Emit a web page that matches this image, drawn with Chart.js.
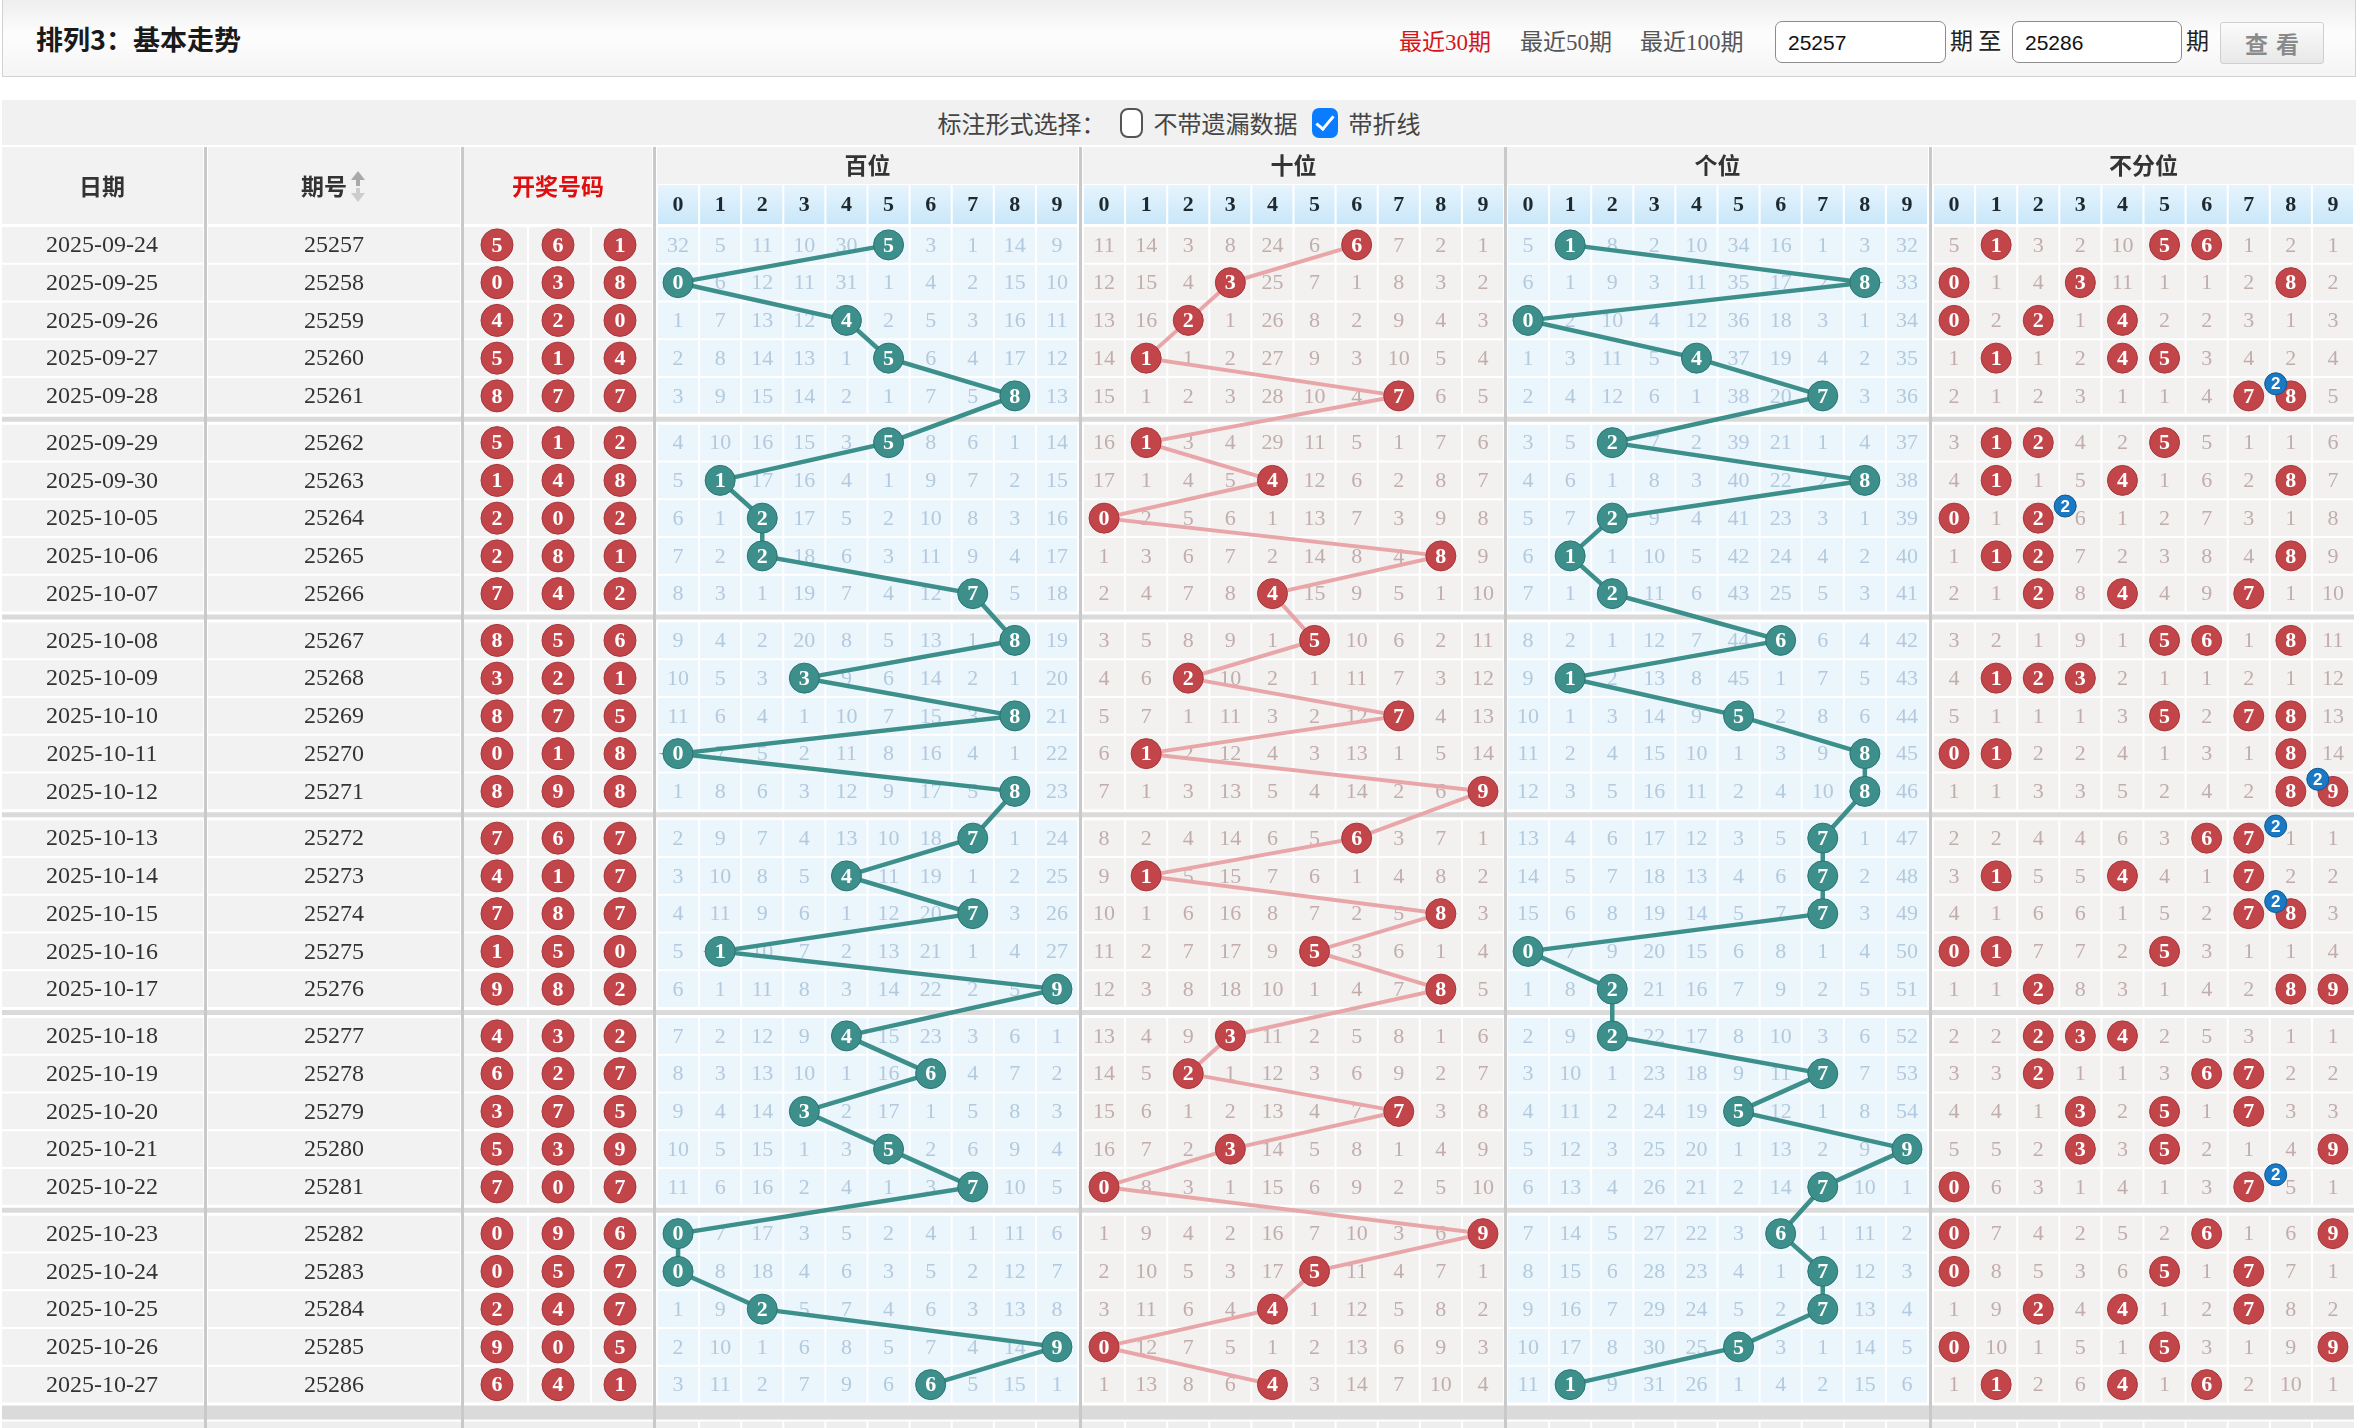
<!DOCTYPE html>
<html lang="zh-CN">
<head>
<meta charset="utf-8">
<title>排列3：基本走势</title>
<script src="https://cdn.jsdelivr.net/npm/chart.js@4.4.1/dist/chart.umd.min.js"></script>
<style>
  body { margin: 0; width: 2360px; height: 1428px; overflow: hidden; background: #fff; position: relative;
         font-family: "Liberation Serif", "Noto Sans CJK SC", serif; color: #333; }
  .bar { position: absolute; left: 2px; top: 0; width: 2352px; height: 76px; border: 1px solid #d2d2d2; border-top: 0;
         background: linear-gradient(#eeeeee, #fdfdfd 45%, #f5f5f5); }
  .title { position: absolute; left: 33px; top: 19px; font: bold 27px "Noto Sans CJK SC", sans-serif; color: #1a1a1a; }
  .lnk { position: absolute; top: 23px; font-size: 23px; color: #555; }
  .lnk.on { color: #d2161b; }
  .inp { position: absolute; top: 21px; height: 42px; box-sizing: border-box; border: 1px solid #8c8c8c; border-radius: 7px;
         background: #fff; font: 21px "Liberation Sans", Arial, sans-serif; color: #111; padding: 9px 0 0 12px; }
  .txt { position: absolute; top: 22px; font: 23px "Noto Sans CJK SC", sans-serif; color: #222; }
  .btn { position: absolute; left: 2217px; top: 22px; width: 104px; height: 42px; box-sizing: border-box;
         border: 1px solid #cfcfcf; border-radius: 3px; background: linear-gradient(#fbfbfb, #e8e8e8);
         font: bold 23px "Noto Sans CJK SC", sans-serif; color: #8a8a8a; text-align: center; line-height: 40px; letter-spacing: 8px; text-indent: 8px; }
  .sel { position: absolute; left: 2px; top: 100px; width: 2354px; height: 45px; background: #f1f1f1;
         display: flex; align-items: center; justify-content: center; font: 24px "Noto Sans CJK SC", sans-serif; color: #444; }
  .sel input { appearance: none; -webkit-appearance: none; margin: 0 11px 0 14px; box-sizing: border-box; }
  .sel .off { width: 23px; height: 30px; border: 2px solid #555; border-radius: 8px; background: #fff; }
  .sel .on { width: 26px; height: 30px; border-radius: 7px; background: #0a7cff; position: relative; }
  .sel .on::after { content: ""; position: absolute; left: 8px; top: 4px; width: 7px; height: 15px;
         border: solid #fff; border-width: 0 3px 3px 0; transform: rotate(40deg); }
  canvas { position: absolute; left: 0; top: 146px; }
</style>
</head>
<body>
<div class="bar">
  <div class="title">排列3：基本走势</div>
  <span class="lnk on" style="left:1396px">最近30期</span>
  <span class="lnk" style="left:1517px">最近50期</span>
  <span class="lnk" style="left:1637px">最近100期</span>
  <div class="inp" style="left:1772px;width:171px">25257</div>
  <span class="txt" style="left:1947px">期 至</span>
  <div class="inp" style="left:2009px;width:170px">25286</div>
  <span class="txt" style="left:2183px">期</span>
  <div class="btn">查看</div>
</div>
<div class="sel">
  <span>标注形式选择：</span>
  <input type="checkbox" class="off"><span>不带遗漏数据</span>
  <input type="checkbox" class="on" checked><span>带折线</span>
</div>
<canvas id="trend" width="2360" height="1282"></canvas>
<script>
const dates = ['2025-09-24', '2025-09-25', '2025-09-26', '2025-09-27', '2025-09-28',
               '2025-09-29', '2025-09-30', '2025-10-05', '2025-10-06', '2025-10-07',
               '2025-10-08', '2025-10-09', '2025-10-10', '2025-10-11', '2025-10-12',
               '2025-10-13', '2025-10-14', '2025-10-15', '2025-10-16', '2025-10-17',
               '2025-10-18', '2025-10-19', '2025-10-20', '2025-10-21', '2025-10-22',
               '2025-10-23', '2025-10-24', '2025-10-25', '2025-10-26', '2025-10-27'];
const issues = ['25257', '25258', '25259', '25260', '25261', '25262', '25263', '25264', '25265', '25266',
                '25267', '25268', '25269', '25270', '25271', '25272', '25273', '25274', '25275', '25276',
                '25277', '25278', '25279', '25280', '25281', '25282', '25283', '25284', '25285', '25286'];

// 开奖号码: 百位 / 十位 / 个位
const hundreds = [5, 0, 4, 5, 8, 5, 1, 2, 2, 7, 8, 3, 8, 0, 8, 7, 4, 7, 1, 9, 4, 6, 3, 5, 7, 0, 0, 2, 9, 6];
const tens     = [6, 3, 2, 1, 7, 1, 4, 0, 8, 4, 5, 2, 7, 1, 9, 6, 1, 8, 5, 8, 3, 2, 7, 3, 0, 9, 5, 4, 0, 4];
const units    = [1, 8, 0, 4, 7, 2, 8, 2, 1, 2, 6, 1, 5, 8, 8, 7, 7, 7, 0, 2, 2, 7, 5, 9, 7, 6, 7, 7, 5, 1];

const digitLabels = ['0', '1', '2', '3', '4', '5', '6', '7', '8', '9'];
const blockTitles = ['百位', '十位', '个位', '不分位'];

// 遗漏数据 (0 = 当期开出)
const missHundreds = [
  [32, 5, 11, 10, 30, 0, 3, 1, 14, 9], [0, 6, 12, 11, 31, 1, 4, 2, 15, 10], [1, 7, 13, 12, 0, 2, 5, 3, 16, 11],
  [2, 8, 14, 13, 1, 0, 6, 4, 17, 12], [3, 9, 15, 14, 2, 1, 7, 5, 0, 13], [4, 10, 16, 15, 3, 0, 8, 6, 1, 14],
  [5, 0, 17, 16, 4, 1, 9, 7, 2, 15], [6, 1, 0, 17, 5, 2, 10, 8, 3, 16], [7, 2, 0, 18, 6, 3, 11, 9, 4, 17],
  [8, 3, 1, 19, 7, 4, 12, 0, 5, 18], [9, 4, 2, 20, 8, 5, 13, 1, 0, 19], [10, 5, 3, 0, 9, 6, 14, 2, 1, 20],
  [11, 6, 4, 1, 10, 7, 15, 3, 0, 21], [0, 7, 5, 2, 11, 8, 16, 4, 1, 22], [1, 8, 6, 3, 12, 9, 17, 5, 0, 23],
  [2, 9, 7, 4, 13, 10, 18, 0, 1, 24], [3, 10, 8, 5, 0, 11, 19, 1, 2, 25], [4, 11, 9, 6, 1, 12, 20, 0, 3, 26],
  [5, 0, 10, 7, 2, 13, 21, 1, 4, 27], [6, 1, 11, 8, 3, 14, 22, 2, 5, 0], [7, 2, 12, 9, 0, 15, 23, 3, 6, 1],
  [8, 3, 13, 10, 1, 16, 0, 4, 7, 2], [9, 4, 14, 0, 2, 17, 1, 5, 8, 3], [10, 5, 15, 1, 3, 0, 2, 6, 9, 4],
  [11, 6, 16, 2, 4, 1, 3, 0, 10, 5], [0, 7, 17, 3, 5, 2, 4, 1, 11, 6], [0, 8, 18, 4, 6, 3, 5, 2, 12, 7],
  [1, 9, 0, 5, 7, 4, 6, 3, 13, 8], [2, 10, 1, 6, 8, 5, 7, 4, 14, 0], [3, 11, 2, 7, 9, 6, 0, 5, 15, 1]];
const missTens = [
  [11, 14, 3, 8, 24, 6, 0, 7, 2, 1], [12, 15, 4, 0, 25, 7, 1, 8, 3, 2], [13, 16, 0, 1, 26, 8, 2, 9, 4, 3],
  [14, 0, 1, 2, 27, 9, 3, 10, 5, 4], [15, 1, 2, 3, 28, 10, 4, 0, 6, 5], [16, 0, 3, 4, 29, 11, 5, 1, 7, 6],
  [17, 1, 4, 5, 0, 12, 6, 2, 8, 7], [0, 2, 5, 6, 1, 13, 7, 3, 9, 8], [1, 3, 6, 7, 2, 14, 8, 4, 0, 9],
  [2, 4, 7, 8, 0, 15, 9, 5, 1, 10], [3, 5, 8, 9, 1, 0, 10, 6, 2, 11], [4, 6, 0, 10, 2, 1, 11, 7, 3, 12],
  [5, 7, 1, 11, 3, 2, 12, 0, 4, 13], [6, 0, 2, 12, 4, 3, 13, 1, 5, 14], [7, 1, 3, 13, 5, 4, 14, 2, 6, 0],
  [8, 2, 4, 14, 6, 5, 0, 3, 7, 1], [9, 0, 5, 15, 7, 6, 1, 4, 8, 2], [10, 1, 6, 16, 8, 7, 2, 5, 0, 3],
  [11, 2, 7, 17, 9, 0, 3, 6, 1, 4], [12, 3, 8, 18, 10, 1, 4, 7, 0, 5], [13, 4, 9, 0, 11, 2, 5, 8, 1, 6],
  [14, 5, 0, 1, 12, 3, 6, 9, 2, 7], [15, 6, 1, 2, 13, 4, 7, 0, 3, 8], [16, 7, 2, 0, 14, 5, 8, 1, 4, 9],
  [0, 8, 3, 1, 15, 6, 9, 2, 5, 10], [1, 9, 4, 2, 16, 7, 10, 3, 6, 0], [2, 10, 5, 3, 17, 0, 11, 4, 7, 1],
  [3, 11, 6, 4, 0, 1, 12, 5, 8, 2], [0, 12, 7, 5, 1, 2, 13, 6, 9, 3], [1, 13, 8, 6, 0, 3, 14, 7, 10, 4]];
const missUnits = [
  [5, 0, 8, 2, 10, 34, 16, 1, 3, 32], [6, 1, 9, 3, 11, 35, 17, 2, 0, 33], [0, 2, 10, 4, 12, 36, 18, 3, 1, 34],
  [1, 3, 11, 5, 0, 37, 19, 4, 2, 35], [2, 4, 12, 6, 1, 38, 20, 0, 3, 36], [3, 5, 0, 7, 2, 39, 21, 1, 4, 37],
  [4, 6, 1, 8, 3, 40, 22, 2, 0, 38], [5, 7, 0, 9, 4, 41, 23, 3, 1, 39], [6, 0, 1, 10, 5, 42, 24, 4, 2, 40],
  [7, 1, 0, 11, 6, 43, 25, 5, 3, 41], [8, 2, 1, 12, 7, 44, 0, 6, 4, 42], [9, 0, 2, 13, 8, 45, 1, 7, 5, 43],
  [10, 1, 3, 14, 9, 0, 2, 8, 6, 44], [11, 2, 4, 15, 10, 1, 3, 9, 0, 45], [12, 3, 5, 16, 11, 2, 4, 10, 0, 46],
  [13, 4, 6, 17, 12, 3, 5, 0, 1, 47], [14, 5, 7, 18, 13, 4, 6, 0, 2, 48], [15, 6, 8, 19, 14, 5, 7, 0, 3, 49],
  [0, 7, 9, 20, 15, 6, 8, 1, 4, 50], [1, 8, 0, 21, 16, 7, 9, 2, 5, 51], [2, 9, 0, 22, 17, 8, 10, 3, 6, 52],
  [3, 10, 1, 23, 18, 9, 11, 0, 7, 53], [4, 11, 2, 24, 19, 0, 12, 1, 8, 54], [5, 12, 3, 25, 20, 1, 13, 2, 9, 0],
  [6, 13, 4, 26, 21, 2, 14, 0, 10, 1], [7, 14, 5, 27, 22, 3, 0, 1, 11, 2], [8, 15, 6, 28, 23, 4, 1, 0, 12, 3],
  [9, 16, 7, 29, 24, 5, 2, 0, 13, 4], [10, 17, 8, 30, 25, 0, 3, 1, 14, 5], [11, 0, 9, 31, 26, 1, 4, 2, 15, 6]];
const missAll = [
  [5, 0, 3, 2, 10, 0, 0, 1, 2, 1], [0, 1, 4, 0, 11, 1, 1, 2, 0, 2], [0, 2, 0, 1, 0, 2, 2, 3, 1, 3],
  [1, 0, 1, 2, 0, 0, 3, 4, 2, 4], [2, 1, 2, 3, 1, 1, 4, 0, 0, 5], [3, 0, 0, 4, 2, 0, 5, 1, 1, 6],
  [4, 0, 1, 5, 0, 1, 6, 2, 0, 7], [0, 1, 0, 6, 1, 2, 7, 3, 1, 8], [1, 0, 0, 7, 2, 3, 8, 4, 0, 9],
  [2, 1, 0, 8, 0, 4, 9, 0, 1, 10], [3, 2, 1, 9, 1, 0, 0, 1, 0, 11], [4, 0, 0, 0, 2, 1, 1, 2, 1, 12],
  [5, 1, 1, 1, 3, 0, 2, 0, 0, 13], [0, 0, 2, 2, 4, 1, 3, 1, 0, 14], [1, 1, 3, 3, 5, 2, 4, 2, 0, 0],
  [2, 2, 4, 4, 6, 3, 0, 0, 1, 1], [3, 0, 5, 5, 0, 4, 1, 0, 2, 2], [4, 1, 6, 6, 1, 5, 2, 0, 0, 3],
  [0, 0, 7, 7, 2, 0, 3, 1, 1, 4], [1, 1, 0, 8, 3, 1, 4, 2, 0, 0], [2, 2, 0, 0, 0, 2, 5, 3, 1, 1],
  [3, 3, 0, 1, 1, 3, 0, 0, 2, 2], [4, 4, 1, 0, 2, 0, 1, 0, 3, 3], [5, 5, 2, 0, 3, 0, 2, 1, 4, 0],
  [0, 6, 3, 1, 4, 1, 3, 0, 5, 1], [0, 7, 4, 2, 5, 2, 0, 1, 6, 0], [0, 8, 5, 3, 6, 0, 1, 0, 7, 1],
  [1, 9, 0, 4, 0, 1, 2, 0, 8, 2], [0, 10, 1, 5, 1, 0, 3, 1, 9, 0], [1, 0, 2, 6, 0, 1, 0, 2, 10, 1]];

const draws = [hundreds, tens, units];
const misses = [missHundreds, missTens, missUnits, missAll];

// layout (x in page pixels, y in rows)
const ROW_GAP = 9 / 37.75;          // extra space after each group of five rows
const BLOCK_LEFT = [657, 1083, 1507, 1933];
const CELL_W = 42.1;
const DRAW_X = [497, 558, 620];
const SEPARATORS = [204, 461, 653, 1079, 1504, 1929];
const BLUE_CELL = '#eaf5fc', PINK_CELL = '#f3f0f0';
const BLUE_TEXT = '#b3cade', PINK_TEXT = '#c2adad';
const TEAL = '#3c8f8a', TEAL_EDGE = '#2c7470', RED = '#c2454a', RED_EDGE = '#a5363b';

function rowVal(i) { return i + Math.floor(i / 5) * ROW_GAP; }
function digitX(b, d) { return BLOCK_LEFT[b] + CELL_W * (d + 0.5); }

const serif = '"Liberation Serif", "Noto Sans CJK SC", serif';
const hei = '"Noto Sans CJK SC", sans-serif';

const tablePlugin = {
    id: 'trendTable',
    beforeDatasetsDraw(chart) {
        const { ctx, scales: { x, y } } = chart;
        const H = chart.height;
        const px = v => x.getPixelForValue(v);
        const top = i => y.getPixelForValue(rowVal(i) - 0.5);
        const bot = i => y.getPixelForValue(rowVal(i) + 0.5);
        const headBot = y.getPixelForValue(-0.5) - 2;
        ctx.save();
        ctx.textAlign = 'center';
        ctx.textBaseline = 'middle';

        // header
        ctx.fillStyle = '#f2f2f2';
        ctx.fillRect(px(2), 1, px(203) - px(2), headBot - 1);
        ctx.fillRect(px(208), 1, px(460) - px(208), headBot - 1);
        ctx.fillRect(px(464), 1, px(652) - px(464), headBot - 1);
        ctx.fillStyle = '#333';
        ctx.font = 'bold 23px ' + hei;
        ctx.fillText('日期', px(102), 40);
        ctx.fillText('期号', px(324), 40);
        // sort arrows
        ctx.fillStyle = '#a9a9a9';
        ctx.beginPath(); ctx.moveTo(px(358), 25); ctx.lineTo(px(351), 34); ctx.lineTo(px(365), 34); ctx.fill();
        ctx.fillRect(px(356), 33, 4, 7);
        ctx.fillStyle = '#cdcdcd';
        ctx.fillRect(px(356), 42, 4, 7);
        ctx.beginPath(); ctx.moveTo(px(358), 56); ctx.lineTo(px(351), 47); ctx.lineTo(px(365), 47); ctx.fill();
        ctx.fillStyle = '#e00e0e';
        ctx.fillText('开奖号码', px(558), 40);

        const dTop = 39;
        for (let b = 0; b < 4; b++) {
            const l = BLOCK_LEFT[b];
            ctx.fillStyle = '#f2f2f2';
            ctx.fillRect(px(l), 1, px(l + CELL_W * 10) - px(l), dTop - 2);
            ctx.fillStyle = '#333';
            ctx.font = 'bold 23px ' + hei;
            ctx.fillText(blockTitles[b], px(digitX(b, 4.5)), 19);
            const g = ctx.createLinearGradient(0, dTop, 0, headBot);
            g.addColorStop(0, '#e6f4fd');
            g.addColorStop(1, '#c9e7f9');
            digitLabels.forEach((lab, d) => {
                const cx = l + CELL_W * d;
                ctx.fillStyle = g;
                ctx.fillRect(px(cx) + 1, dTop, CELL_W - 2, headBot - dTop);
                ctx.fillStyle = '#1f2a30';
                ctx.font = 'bold 22px ' + serif;
                ctx.fillText(lab, px(digitX(b, d)), (dTop + headBot) / 2 + 1);
            });
        }

        // rows
        for (let i = 0; i < dates.length; i++) {
            const t = top(i) + 1, bt = bot(i) - 1, cy = (t + bt) / 2 + 1;
            ctx.fillStyle = '#f2f2f2';
            ctx.fillRect(px(2), t, px(203) - px(2), bt - t);
            ctx.fillRect(px(208), t, px(460) - px(208), bt - t);
            ctx.fillRect(px(464), t, px(527) - px(464), bt - t);
            ctx.fillRect(px(529), t, px(590) - px(529), bt - t);
            ctx.fillRect(px(592), t, px(652) - px(592), bt - t);
            ctx.fillStyle = '#333';
            ctx.font = '24px ' + serif;
            ctx.fillText(dates[i], px(102), cy);
            ctx.fillText(issues[i], px(334), cy);
            for (let b = 0; b < 4; b++) {
                const blue = b % 2 === 0;
                for (let d = 0; d < 10; d++) {
                    ctx.fillStyle = blue ? BLUE_CELL : PINK_CELL;
                    ctx.fillRect(px(BLOCK_LEFT[b] + CELL_W * d) + 1, t, CELL_W - 2, bt - t);
                    const v = misses[b][i][d];
                    if (v === 0) continue;
                    ctx.fillStyle = blue ? BLUE_TEXT : PINK_TEXT;
                    ctx.font = '22px ' + serif;
                    ctx.fillText(String(v), px(digitX(b, d)), cy);
                }
            }
        }

        // gaps between groups, and the start of the next section at the bottom
        ctx.fillStyle = '#dadada';
        for (let g = 1; g <= 6; g++) {
            const gTop = bot(g * 5 - 1);
            const gBot = g < 6 ? top(g * 5) : gTop + 18;
            ctx.fillRect(px(2), gTop + 2, px(2354) - px(2), gBot - gTop - 4);
        }
        const lastTop = bot(29) + 18;
        ctx.fillStyle = '#eeeeee';
        ctx.fillRect(px(2), lastTop, px(2354) - px(2), H - lastTop);
        ctx.fillStyle = '#fff';
        BLOCK_LEFT.forEach(l => {
            for (let d = 1; d < 10; d++) ctx.fillRect(px(l + CELL_W * d) - 1, lastTop, 2, H - lastTop);
        });

        // column separators
        ctx.fillStyle = '#c9c9c9';
        SEPARATORS.forEach(s => ctx.fillRect(px(s), 1, 3, H - 1));
        ctx.restore();
    },
    afterDatasetsDraw(chart) {
        const { ctx } = chart;
        ctx.save();
        ctx.textAlign = 'center';
        ctx.textBaseline = 'middle';
        ctx.fillStyle = '#fff';
        chart.data.datasets.forEach((ds, k) => {
            if (!ds.ballFont) return;
            ctx.font = ds.ballFont;
            chart.getDatasetMeta(k).data.forEach((el, j) => {
                ctx.fillText(String(ds.data[j].d), el.x, el.y + 1);
            });
        });
        ctx.restore();
    }
};

// trend lines for the three positions
const lineColors = [TEAL, '#e9a6a9', TEAL];
const ballColors = [TEAL, RED, TEAL];
const ballEdges = [TEAL_EDGE, RED_EDGE, TEAL_EDGE];
const datasets = draws.map((arr, p) => ({
    data: arr.map((d, i) => ({ x: digitX(p, d), y: rowVal(i), d: d })),
    showLine: true,
    borderColor: lineColors[p],
    borderWidth: p === 1 ? 4 : 4.5,
    pointRadius: 15,
    pointBackgroundColor: ballColors[p],
    pointBorderColor: ballEdges[p],
    pointBorderWidth: 1,
    clip: false,
    ballFont: 'bold 22px ' + serif
}));

// 不分位 balls and 重号 badges
const allBalls = [], badges = [];
for (let i = 0; i < dates.length; i++) {
    const row = [hundreds[i], tens[i], units[i]];
    digitLabels.forEach((lab, d) => {
        const n = row.filter(v => v === d).length;
        if (n === 0) return;
        allBalls.push({ x: digitX(3, d), y: rowVal(i), d: d });
        if (n > 1) badges.push({ x: digitX(3, d) + CELL_W * 0.64, y: rowVal(i) - 0.32, d: n });
    });
}
datasets.push({
    data: allBalls, pointRadius: 15, pointBackgroundColor: RED, pointBorderColor: RED_EDGE,
    pointBorderWidth: 1, clip: false, ballFont: 'bold 22px ' + serif
});

// 开奖号码 column
const drawBalls = [];
for (let i = 0; i < dates.length; i++) {
    draws.forEach((arr, p) => drawBalls.push({ x: DRAW_X[p], y: rowVal(i), d: arr[i] }));
}
datasets.push({
    data: drawBalls, pointRadius: 16, pointBackgroundColor: RED, pointBorderColor: RED_EDGE,
    pointBorderWidth: 1, clip: false, ballFont: 'bold 22px ' + serif
});
datasets.unshift({
    data: badges, pointRadius: 11, pointBackgroundColor: '#1b78c2', pointBorderColor: '#0d5894',
    pointBorderWidth: 1, clip: false, ballFont: 'bold 17px "Liberation Sans", sans-serif'
});

new Chart(document.getElementById('trend'), {
    type: 'scatter',
    data: { datasets: datasets },
    options: {
        responsive: false, animation: false, events: [],
        layout: { autoPadding: false, padding: { top: 80, left: 0, right: 0, bottom: 0 } },
        scales: {
            x: { type: 'linear', min: 0, max: 2360, display: false },
            y: { type: 'linear', min: -0.5, max: -0.5 + 1202 / 37.75, reverse: true, display: false }
        },
        plugins: { legend: { display: false }, tooltip: { enabled: false } }
    },
    plugins: [tablePlugin]
});
</script>
</body>
</html>
